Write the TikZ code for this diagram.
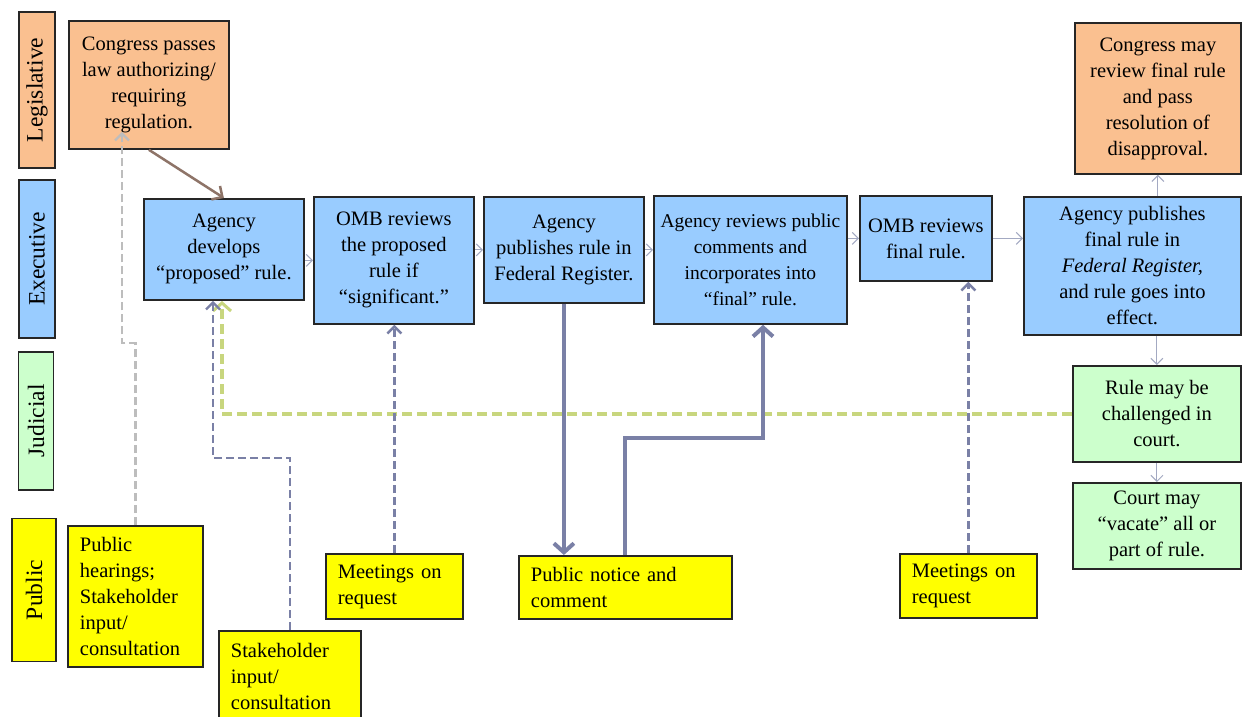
\documentclass[tikz,border=0pt]{standalone}
\usepackage{fontspec}
\setmainfont{Liberation Serif}
\usepackage{tikz}
\usetikzlibrary{positioning, arrows.meta}
\usepackage{xcolor}
\definecolor{legis}{HTML}{FAC090}
\definecolor{execb}{HTML}{99CCFF}
\definecolor{judic}{HTML}{CCFFCC}
\definecolor{pubyel}{HTML}{FFFF00}
\definecolor{flowgray}{HTML}{A3A9C2}
\definecolor{inputblue}{HTML}{7A80A6}
\definecolor{courtgreen}{HTML}{C8D67E}
\definecolor{lawbrown}{HTML}{8E7468}
\definecolor{hearinggray}{HTML}{BDBDBD}
\tikzstyle{arrow} = [line width=1pt, flowgray, -{Straight Barb[length=6pt,width=12pt]}]
\tikzstyle{dash-arr} = [line width=2.8pt, inputblue, dash pattern=on 8pt off 4pt, -{Straight Barb[length=7pt,width=14pt,line width=2.4pt]}]
\tikzstyle{bold-arr} = [line width=4pt, inputblue, -{Straight Barb[length=9pt,width=20pt,line width=4pt]}]

\begin{document}
\begin{tikzpicture}[
    x=1pt, y=-1pt,
    box/.style={draw=black!85, line width=1.8pt, inner sep=2pt, anchor=north west, align=center, font=\fontsize{20.5}{26}\selectfont},
    leg-box/.style={box, fill=legis},
    exe-box/.style={box, fill=execb},
    jud-box/.style={box, fill=judic},
    pub-box/.style={box, fill=pubyel, align=left, inner xsep=12pt},
    side/.style={draw=black!85, line width=1.8pt, rotate=90, inner sep=0pt, font=\fontsize{23.5}{28}\selectfont}
  ]

  \fill[white] (0,0) rectangle (1243,717);
  \useasboundingbox (0,0) rectangle (1243,717);

  \node[side, fill=legis, minimum width=156pt, minimum height=36pt] (lab-leg) at (37,90) {Legislative};
  \node[side, fill=execb, minimum width=158pt, minimum height=36pt] (lab-exe) at (37,259) {Executive};
  \node[side, fill=judic, minimum width=138pt, minimum height=35pt] (lab-jud) at (36,421) {Judicial};
  \node[side, fill=pubyel, minimum width=143pt, minimum height=44pt] (lab-pub) at (34,590) {Public};

  \node[leg-box, minimum width=160pt, minimum height=128pt] (congress) at (68,20) {Congress passes\\law authorizing/\\requiring\\regulation.};
  \node[exe-box, minimum width=160pt, minimum height=101pt] (develops) at (143,198) {Agency\\develops\\“proposed” rule.};
  \node[exe-box, minimum width=160pt, minimum height=127pt] (omb1) at (313,196) {OMB reviews\\the proposed\\rule if\\“significant.”};
  \node[exe-box, minimum width=160pt, minimum height=106pt] (publishes) at (483,196) {Agency\\publishes rule in\\Federal Register.};
  \node[exe-box, minimum width=193pt, minimum height=128pt, font=\fontsize{19.5}{26}\selectfont] (reviews) at (653,195) {Agency reviews public\\comments and\\incorporates into\\“final” rule.};
  \node[exe-box, minimum width=132pt, minimum height=85pt] (omb2) at (859,195) {OMB reviews\\final rule.};
  \node[exe-box, minimum width=217pt, minimum height=138pt] (final) at (1023,196) {Agency publishes\\final rule in\\\textit{Federal Register,}\\and rule goes into\\effect.};
  \node[leg-box, minimum width=166pt, minimum height=151pt] (may) at (1074,22) {Congress may\\review final rule\\and pass\\resolution of\\disapproval.};
  \node[jud-box, minimum width=168pt, minimum height=96pt] (challenged) at (1072,365) {Rule may be\\challenged in\\court.};
  \node[jud-box, minimum width=168pt, minimum height=86pt] (vacate) at (1072,482) {Court may\\“vacate” all or\\part of rule.};

  \node[pub-box, text width=111pt, minimum height=141pt] (hearings) at (67,525) {Public\\hearings;\\Stakeholder\\input/\\consultation};
  \node[pub-box, text width=118pt, minimum height=92pt] (stake) at (218,630) {Stakeholder\\input/\\consultation};
  \node[pub-box, text width=113pt, minimum height=65pt] (meet1) at (325,553) {Meetings on\\request};
  \node[pub-box, text width=189pt, minimum height=63pt] (notice) at (518,555) {Public notice and\\comment};
  \node[pub-box, text width=113pt, minimum height=64pt] (meet2) at (899,553) {Meetings on\\request};

  \coordinate (h-bend) at (122,343);
  \coordinate (s-bend) at (213,458);
  \coordinate (j-bend) at (222,301);
  \coordinate (n-bend) at (763,438);

  \draw[arrow] (develops.east |- omb1.west) -- (omb1.west);
  \draw[arrow] (omb1.east |- publishes.west) -- (publishes.west);
  \draw[arrow] (publishes.east) -- (publishes.east -| reviews.west);
  \draw[arrow] (reviews.east |- omb2.west) -- (omb2.west);
  \draw[arrow] (omb2.east) -- (omb2.east -| final.west);
  \draw[arrow] (final.north -| may.south) -- (may.south);
  \draw[arrow] (final.south -| challenged.north) -- (challenged.north);
  \draw[arrow] (challenged.south) -- (vacate.north);

  \draw[line width=2.5pt, lawbrown, -{Straight Barb[length=8pt,width=16pt,line width=2.5pt]}] (congress.south) -- (develops.north);

  \draw[dash-arr, hearinggray] (hearings.north) |- (h-bend) -- ([yshift=18pt]h-bend |- congress.south);
  \draw[line width=4pt, courtgreen, dash pattern=on 10pt off 5pt, -{Straight Barb[length=8pt,width=18pt,line width=3pt]}] (challenged.west) -| (j-bend);
  \draw[dash-arr] (stake.north) |- (s-bend) -- (s-bend |- develops.south);
  \draw[dash-arr] (meet1.north) -- (meet1.north |- omb1.south);
  \draw[dash-arr] (meet2.north) -- (meet2.north |- omb2.south);

  \draw[bold-arr] (publishes.south) -- (publishes.south |- notice.north);
  \draw[bold-arr] (notice.north) |- (n-bend) -- (n-bend |- reviews.south);

\end{tikzpicture}
\end{document}
